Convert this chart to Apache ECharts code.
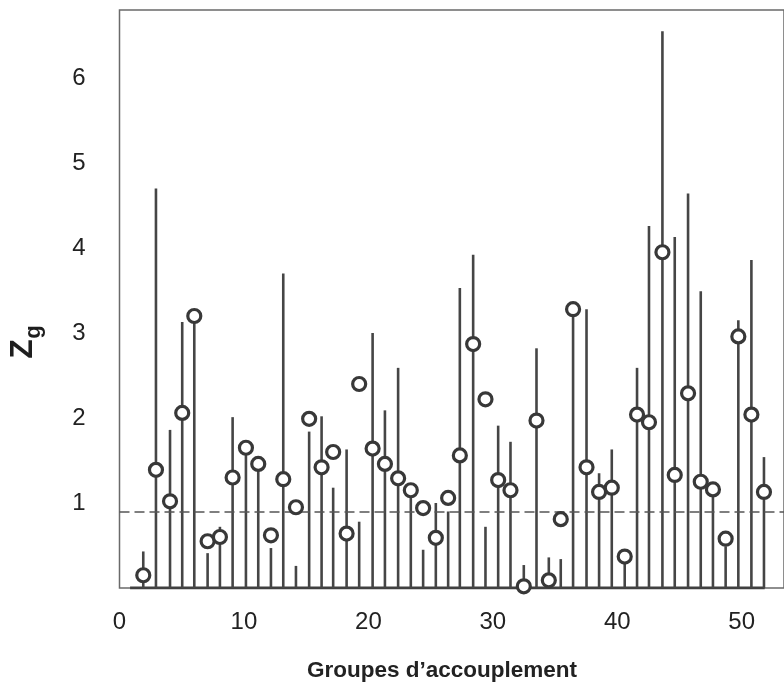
<!DOCTYPE html>
<html>
<head>
<meta charset="utf-8">
<script src="https://cdn.jsdelivr.net/npm/echarts@6/dist/echarts.min.js"></script>
<style>
html,body{margin:0;padding:0;background:#fff;}
#chart{width:784px;height:682px;}
</style>
</head>
<body>
<div id="chart"></div>
<script>
// Position of each mating group on the x axis
const groupX = [1.91, 2.93, 4.06, 5.04, 6.01, 7.08, 8.07, 9.09, 10.16, 11.15,
  12.17, 13.16, 14.18, 15.24, 16.24, 17.17, 18.25, 19.26, 20.34, 21.33,
  22.39, 23.41, 24.40, 25.42, 26.41, 27.35, 28.42, 29.41, 30.43, 31.42,
  32.49, 33.51, 34.50, 35.46, 36.45, 37.53, 38.54, 39.56, 40.60, 41.59,
  42.55, 43.63, 44.62, 45.69, 46.71, 47.69, 48.71, 49.73, 50.78, 51.79];
// Top of each vertical line
const lineTop = [0.43, 4.70, 1.86, 3.13, 3.20, 0.41, 0.72, 2.01, 1.60, 1.45,
  0.47, 3.70, 0.26, 1.84, 2.02, 1.18, 1.63, 0.78, 3.00, 2.09,
  2.59, 1.12, 0.45, 1.00, 0.90, 3.53, 3.92, 0.72, 1.91, 1.72,
  0.27, 2.82, 0.36, 0.34, 3.28, 3.28, 1.35, 1.63, 0.30, 2.59,
  4.26, 6.55, 4.13, 4.64, 3.49, 1.10, 0.49, 3.15, 3.86, 1.54];
// Zg value (open circles)
const zg = [0.15, 1.39, 1.02, 2.06, 3.20, 0.55, 0.60, 1.30, 1.65, 1.46,
  0.62, 1.28, 0.95, 1.99, 1.42, 1.60, 0.64, 2.40, 1.64, 1.46,
  1.29, 1.15, 0.94, 0.59, 1.06, 1.56, 2.87, 2.22, 1.27, 1.15,
  0.02, 1.97, 0.09, 0.81, 3.28, 1.42, 1.13, 1.18, 0.37, 2.04,
  1.95, 3.95, 1.33, 2.29, 1.25, 1.16, 0.58, 2.96, 2.04, 1.13];
const threshold = 0.9;
const baselineX = [0.85, 51.85];
const xTicks = [0, 10, 20, 30, 40, 50];
const yTicks = [1, 2, 3, 4, 5, 6];
const xTitle = 'Groupes d\u2019accouplement';

const chart = echarts.init(document.getElementById('chart'));
const FONT = '"Liberation Sans", Arial, sans-serif';

const lineData = groupX.map((x, i) => [x, lineTop[i]]);
const circleData = groupX.map((x, i) => [x, zg[i]]);

chart.setOption({
  animation: false,
  backgroundColor: '#fff',
  grid: { left: 119.5, right: 0, top: 10, bottom: 94, show: true, borderColor: '#6a6a6a', borderWidth: 1.5, backgroundColor: 'transparent' },
  xAxis: {
    type: 'value', min: 0, max: 53.4, interval: 10,
    axisLine: { show: false }, axisTick: { show: false }, splitLine: { show: false },
    axisLabel: {
      fontSize: 24, color: '#222', fontFamily: FONT, margin: 22,
      showMaxLabel: false,
      formatter: v => xTicks.includes(v) ? String(v) : ''
    }
  },
  yAxis: {
    type: 'value', min: 0, max: 6.8, interval: 1,
    axisLine: { show: false }, axisTick: { show: false }, splitLine: { show: false },
    axisLabel: {
      fontSize: 24, color: '#222', fontFamily: FONT, margin: 34,
      showMinLabel: false, showMaxLabel: false,
      formatter: v => yTicks.includes(v) ? String(v) : ''
    }
  },
  graphic: [
    { type: 'text', x: 23, y: 349, rotation: Math.PI / 2,
      style: { text: 'Z', font: 'bold 32px ' + FONT, fill: '#1e1e1e', align: 'center', verticalAlign: 'middle' } },
    { type: 'text', x: 34, y: 332, rotation: Math.PI / 2,
      style: { text: 'g', font: 'bold 22px ' + FONT, fill: '#1e1e1e', align: 'center', verticalAlign: 'middle' } },
    { type: 'text', x: 442, y: 671,
      style: { text: xTitle, font: 'bold 22.5px ' + FONT, fill: '#222', align: 'center', verticalAlign: 'middle' } }
  ],
  series: [
    {
      type: 'line', data: baselineX.map(x => [x, 0]), symbol: 'none',
      lineStyle: { color: '#404040', width: 3 }, z: 3, silent: true
    },
    {
      type: 'custom', data: lineData, z: 4, silent: true,
      renderItem: (params, api) => {
        const p0 = api.coord([api.value(0), 0]);
        const p1 = api.coord([api.value(0), api.value(1)]);
        return { type: 'line', shape: { x1: p0[0], y1: p0[1], x2: p1[0], y2: p1[1] },
          style: { stroke: '#454545', lineWidth: 2.6 } };
      }
    },
    {
      type: 'scatter', data: circleData, symbol: 'circle', symbolSize: 13, z: 6,
      itemStyle: { color: '#fff', borderColor: '#383838', borderWidth: 3.2, opacity: 1 },
      markLine: {
        silent: true, symbol: 'none', label: { show: false },
        lineStyle: { color: '#555', width: 1.5, type: [10, 5] },
        data: [{ yAxis: threshold }]
      }
    }
  ]
});
</script>
</body>
</html>
